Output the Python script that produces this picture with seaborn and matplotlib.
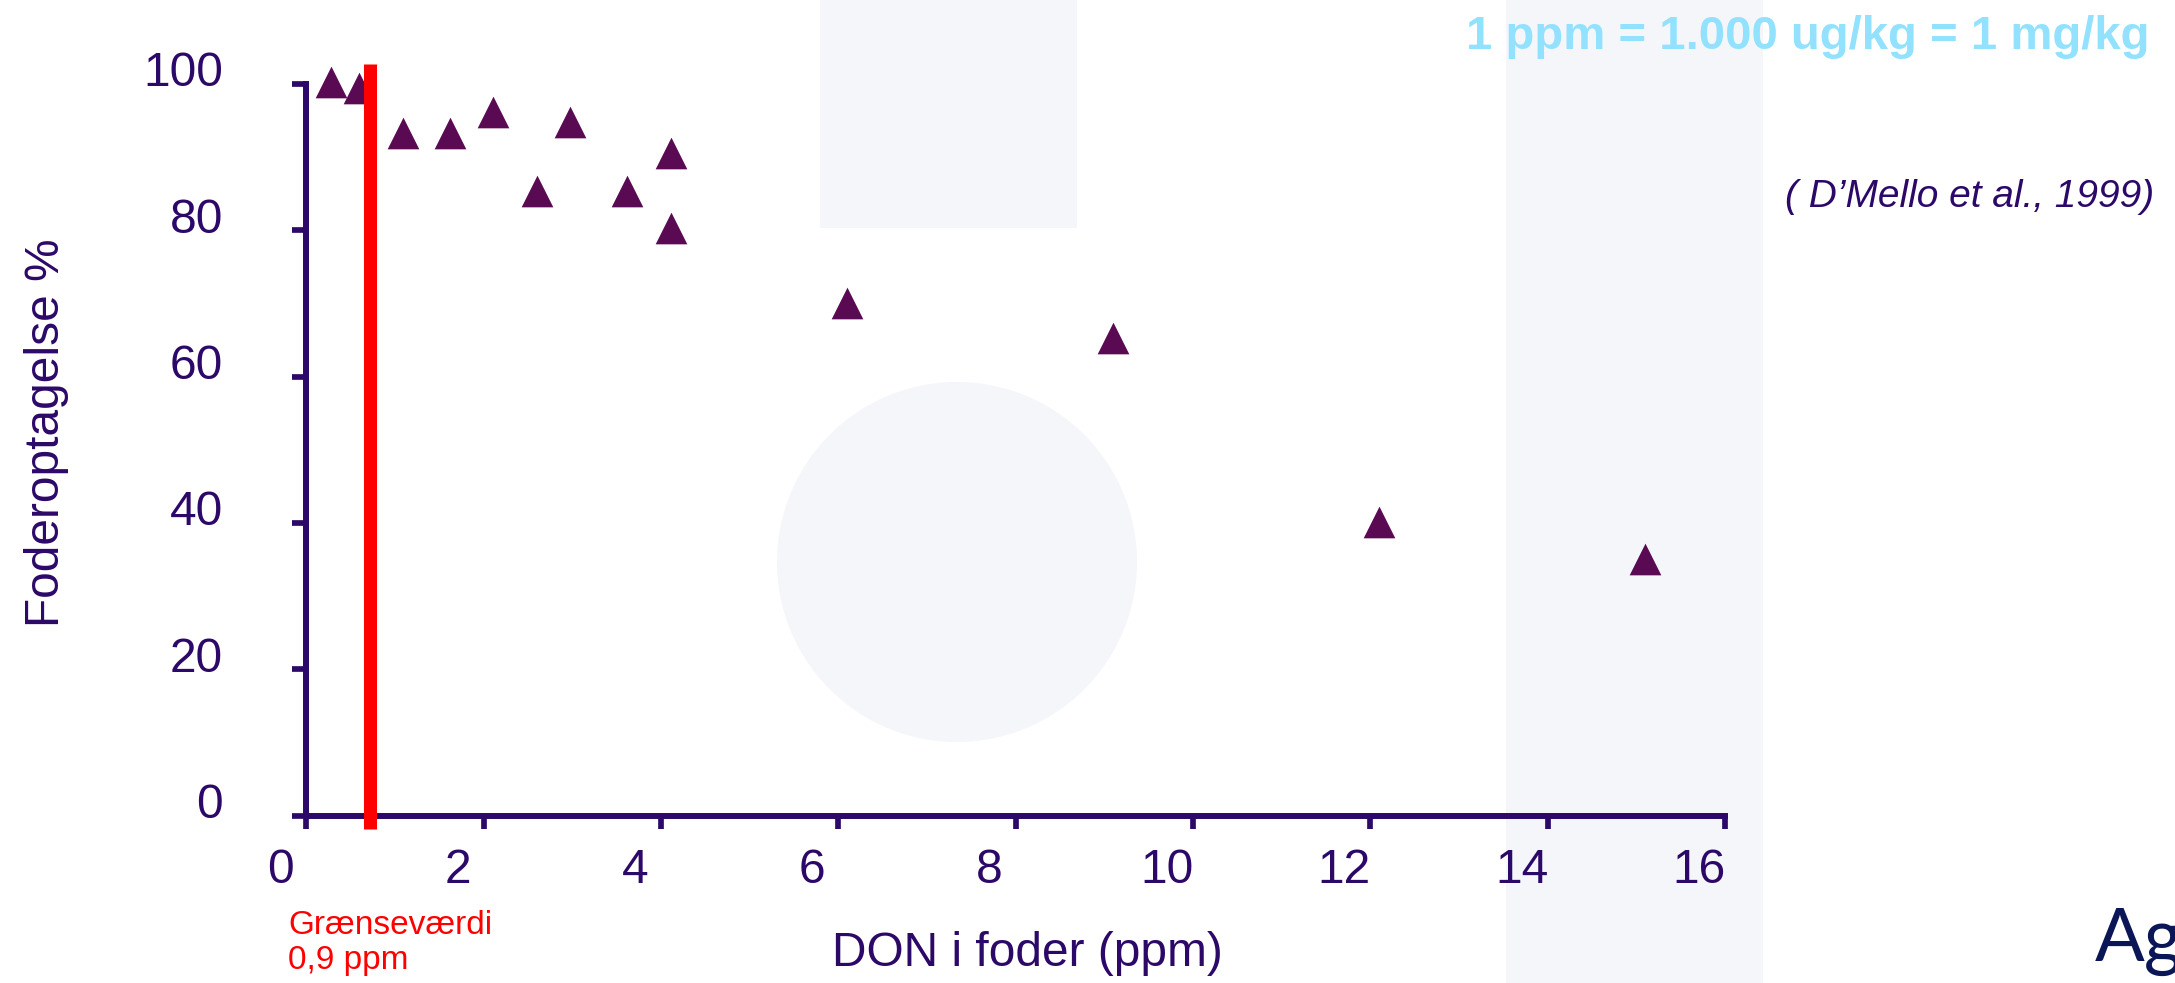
import numpy as np
import pandas as pd
import seaborn as sns
import matplotlib.pyplot as plt
import matplotlib.transforms as mtransforms
from matplotlib.patches import Rectangle, Ellipse

# data
DON_PPM = [0.28, 0.60, 1.09, 1.62, 2.11, 2.60, 2.97, 3.62, 4.11, 4.11, 6.10, 9.10, 12.10, 15.10]
FODER_PCT = [100.3, 99.4, 93.3, 93.3, 96.1, 85.4, 94.8, 85.4, 90.5, 80.3, 70.0, 65.3, 40.2, 35.1]
X_TICKS = [0, 2, 4, 6, 8, 10, 12, 14, 16]
Y_TICKS = [0, 20, 40, 60, 80, 100]
GRAENSE_X = 0.72
GRAENSE_TEXT = "Grænseværdi\n0,9 ppm"
XLABEL = "DON i foder (ppm)"
YLABEL = "Foderoptagelse %"
ENHED_TEXT = "1 ppm = 1.000 ug/kg = 1 mg/kg"
KILDE_TEXT = "( D\u2019Mello et al., 1999)"

AXIS_COL = "#2C0868"
MARKER_COL = "#5A0A52"
BG_COL = "#F5F6FA"

sns.set_style("white")
plt.rcParams['font.family'] = ['Liberation Sans', 'DejaVu Sans']

df = pd.DataFrame({"don": DON_PPM, "foder": FODER_PCT})

fig = plt.figure(figsize=(21.75, 9.83), dpi=100)
fig.patch.set_facecolor("white")

# faint slide decorations behind the chart
fig.patches.append(Rectangle((0.377, 0.768), 0.1182, 0.232, transform=fig.transFigure,
                             facecolor=BG_COL, edgecolor="none", zorder=-1))
fig.patches.append(Rectangle((0.6924, 0.0), 0.1182, 1.0, transform=fig.transFigure,
                             facecolor=BG_COL, edgecolor="none", zorder=-1))
fig.patches.append(Ellipse((0.44, 0.4283), 360 / 2175, 360 / 983, transform=fig.transFigure,
                           facecolor=BG_COL, edgecolor="none", zorder=-1))

ax = fig.add_axes([0.1408, 0.1702, 0.6523, 0.7444])
ax.set_facecolor("none")

sns.scatterplot(data=df, x="don", y="foder", marker="^", s=520, color=MARKER_COL,
                linewidth=0, clip_on=False, ax=ax, zorder=2)

# grænseværdi line
ax.vlines(GRAENSE_X, -1.8, 102.7, colors="#FF0000", linewidth=9.4, clip_on=False, zorder=4)

ax.set_xlim(0, 16)
ax.set_ylim(0, 100)
ax.set_xticks(X_TICKS)
ax.set_yticks(Y_TICKS)

for side in ["top", "right"]:
    ax.spines[side].set_visible(False)
for side in ["left", "bottom"]:
    ax.spines[side].set_color(AXIS_COL)
    ax.spines[side].set_linewidth(4.3)

ax.tick_params(axis="x", direction="out", length=9.5, width=4.1, color=AXIS_COL,
               labelcolor=AXIS_COL, labelsize=34.5, pad=14, bottom=True)
ax.tick_params(axis="y", direction="out", length=10, width=4.1, color=AXIS_COL,
               labelcolor=AXIS_COL, labelsize=34.5, pad=50, left=True)

# labels sit a bit off their ticks in the original
shift_x = mtransforms.ScaledTranslation(-26 / 100, 0, fig.dpi_scale_trans)
for lab in ax.get_xticklabels():
    lab.set_transform(lab.get_transform() + shift_x)
shift_y = mtransforms.ScaledTranslation(0, 15 / 100, fig.dpi_scale_trans)
for lab in ax.get_yticklabels():
    lab.set_transform(lab.get_transform() + shift_y)

ax.set_xlabel(XLABEL, fontsize=34.5, color=AXIS_COL)
ax.xaxis.set_label_coords(0.508, -0.189)
ax.xaxis.label.set_va("center")
ax.set_ylabel(YLABEL, fontsize=34.5, color=AXIS_COL)
ax.yaxis.set_label_coords(-0.1828, 0.523)
ax.yaxis.label.set_va("center")

fig.text(288 / 2175, 1 - 943 / 983, GRAENSE_TEXT, color="#FF0000", fontsize=24,
         ha="left", va="center", linespacing=1.2)
fig.text(0.9885, 0.962, ENHED_TEXT, color="#92E2FF", fontsize=34, fontweight="bold",
         ha="right", va="center")
fig.text(0.9903, 0.8, KILDE_TEXT, color=AXIS_COL, fontsize=28, fontstyle="italic",
         ha="right", va="center")
fig.text(0.9632, 0.0224, "Ag", color="#0A1655", fontsize=53, family=["Lato", "DejaVu Sans"],
         ha="left", va="baseline")

fig.savefig("out.png", dpi=100)
